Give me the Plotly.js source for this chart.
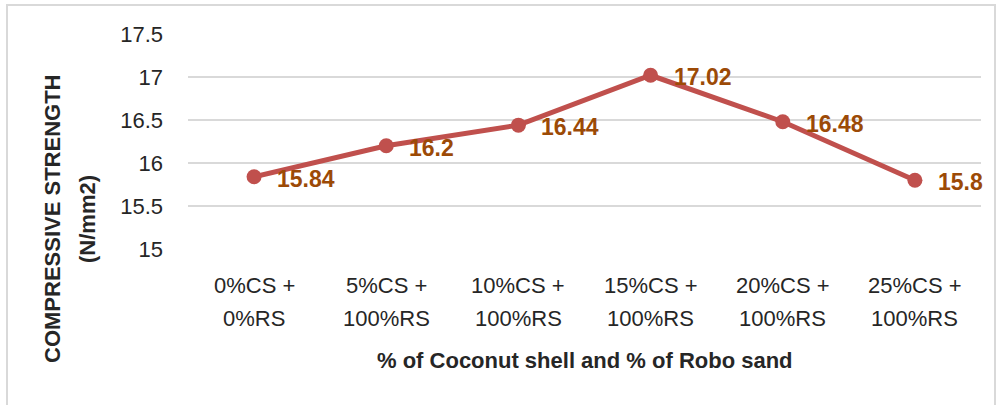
<!DOCTYPE html>
<html>
<head>
<meta charset="utf-8">
<script src="https://cdn.plot.ly/plotly-3.0.1.min.js"></script>
<style>
  html, body { margin: 0; padding: 0; background: #ffffff; }
  #frame { position: absolute; left: 6px; top: 4px; width: 990px; height: 420px; border: 2px solid #D9D9D9; box-sizing: border-box; }
  #chart { position: absolute; left: 0; top: 0; width: 1001px; height: 405px; }
</style>
</head>
<body>
<div id="frame"></div>
<div id="chart"></div>
<script>
const categories = ['0%CS +<br>0%RS', '5%CS +<br>100%RS', '10%CS +<br>100%RS', '15%CS +<br>100%RS', '20%CS +<br>100%RS', '25%CS +<br>100%RS'];
const strength = [15.84, 16.2, 16.44, 17.02, 16.48, 15.8];
const yTickVals = [15, 15.5, 16, 16.5, 17, 17.5];
const yTitleLines = ['COMPRESSIVE STRENGTH', '(N/mm2)'];
const xTitle = '% of Coconut shell and % of Robo sand';

const FONT = "'Liberation Sans', Arial, sans-serif";
const TXT = '#262626';
const idx = categories.map((c, i) => i);

// plot area geometry (pixels)
const L = 188, R = 20, T = 34, B = 156, H = 405 - T - B, W = 1001 - L - R;
const py = p => (405 - B - p) / H;   // pixel y -> paper y
const px = p => (p - L) / W;         // pixel x -> paper x

const trace = {
  x: idx,
  y: strength,
  type: 'scatter',
  mode: 'lines+markers',
  line: { color: '#C0504D', width: 5 },
  marker: { color: '#C0504D', size: 15 },
  hoverinfo: 'skip'
};

const anns = [];
strength.forEach((v, i) => anns.push({
  x: i, y: v, xref: 'x', yref: 'y',
  text: String(v), showarrow: false,
  xanchor: 'left', yanchor: 'middle',
  xshift: 21, yshift: -2,
  font: { family: FONT, size: 23, color: '#9C4A06', weight: 'bold' }
}));
categories.forEach((c, i) => {
  const lines = c.split('<br>');
  const ys = [285, 318];
  lines.forEach((ln, k) => anns.push({
    x: i, xref: 'x', y: py(ys[k]), yref: 'paper',
    text: ln, showarrow: false, xanchor: 'center', yanchor: 'middle',
    font: { family: FONT, size: 22, color: TXT }
  }));
});
anns.push({
  xref: 'paper', yref: 'paper', x: 0.5, y: py(360),
  xanchor: 'center', yanchor: 'middle', text: xTitle, showarrow: false,
  font: { family: FONT, size: 22, color: TXT, weight: 'bold' }
});
const yTitleX = [52, 87];
yTitleLines.forEach((ln, k) => anns.push({
  xref: 'paper', yref: 'paper', x: px(yTitleX[k]), y: py(219),
  xanchor: 'center', yanchor: 'middle', text: ln, textangle: -90, showarrow: false,
  font: { family: FONT, size: 22, color: TXT, weight: 'bold' }
}));

const layout = {
  width: 1001, height: 405,
  margin: { l: L, r: R, t: T, b: B },
  paper_bgcolor: 'rgba(0,0,0,0)',
  plot_bgcolor: 'rgba(0,0,0,0)',
  showlegend: false,
  xaxis: {
    range: [-0.5, categories.length - 0.5],
    tickmode: 'array', tickvals: idx, ticktext: categories,
    showticklabels: false,
    showgrid: false, zeroline: false, showline: false, ticks: '',
    fixedrange: true
  },
  yaxis: {
    range: [15, 17.5],
    tickmode: 'array', tickvals: yTickVals,
    showgrid: true, gridcolor: '#D9D9D9', gridwidth: 1.5,
    zeroline: false, showline: false, ticks: '',
    tickfont: { family: FONT, size: 22, color: TXT },
    ticklabelstandoff: 24,
    fixedrange: true
  },
  annotations: anns
};

Plotly.newPlot('chart', [trace], layout, { staticPlot: true, displayModeBar: false });
</script>
</body>
</html>
